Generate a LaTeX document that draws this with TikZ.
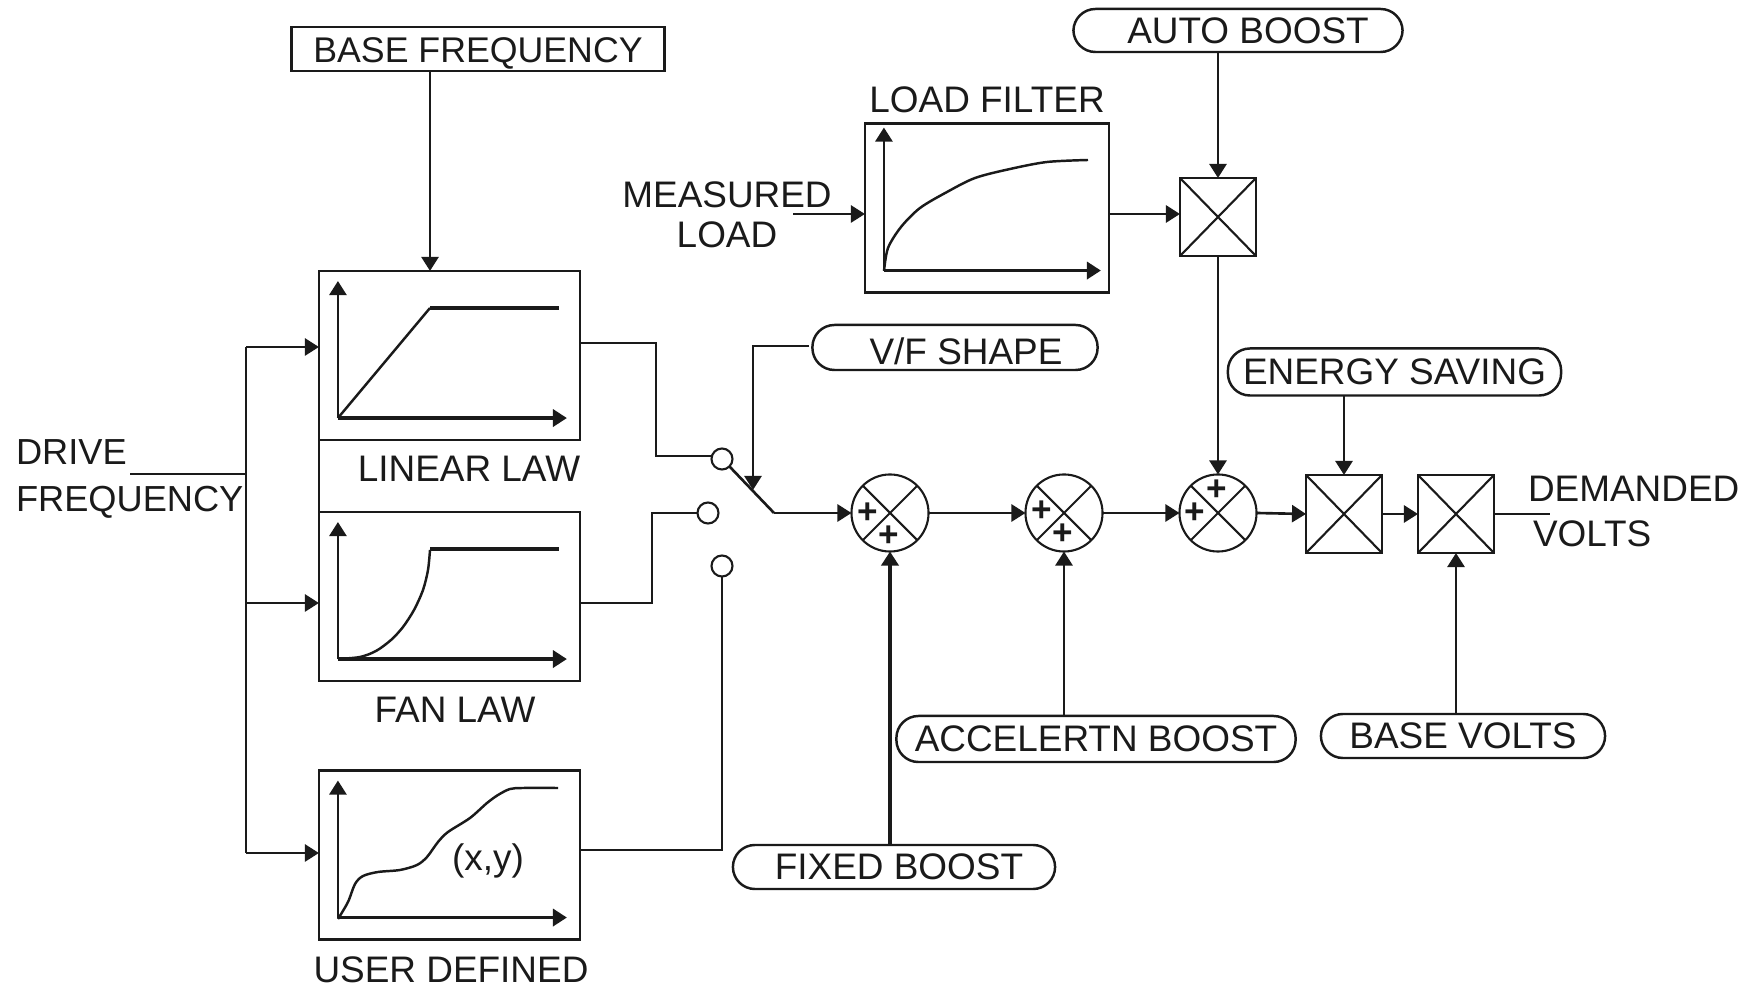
\documentclass[tikz,border=0pt]{standalone}
\usepackage{fontspec}
\setmainfont{Liberation Sans}
\usetikzlibrary{arrows.meta,calc}
\definecolor{Ink}{HTML}{1A1A1A}

\begin{document}
\begin{tikzpicture}[
    x=0.01cm,y=-0.01cm,
    every node/.style={font=\fontsize{10.5}{13}\selectfont,text=Ink,inner sep=0pt,outer sep=0pt},
    lawbox/.style={draw=Ink,line width=0.7pt,minimum width=2.61cm,minimum height=1.69cm},
    pill/.style={draw=Ink,line width=0.7pt,rounded corners=2.2mm},
    crossed/.style={draw=Ink,line width=0.6pt,path picture={
      \draw[Ink,line width=0.6pt] (path picture bounding box.north west)--(path picture bounding box.south east)
        (path picture bounding box.north east)--(path picture bounding box.south west);}},
    mulbox/.style={crossed,minimum width=0.76cm,minimum height=0.78cm},
    sumnode/.style={crossed,circle,minimum size=0.77cm},
    contact/.style={circle,draw=Ink,line width=0.6pt,minimum size=0.21cm},
    plus/.style={font=\fontsize{10}{10}\selectfont\bfseries},
    wire/.style={draw=Ink,line width=0.75pt},
    arr/.style={wire,-{Triangle[length=1.4mm,width=1.7mm]}},
    curve/.style={draw=Ink,line width=0.7pt}
  ]
    \useasboundingbox (0,0) rectangle (1751,989);
    % law boxes
    \node[lawbox] (linear) at (449.5,355.5) {};
    \node[lawbox] (fan) at (449.5,596.5) {};
    \node[lawbox] (user) at (449.5,855) {};
    \node[lawbox,minimum width=2.44cm] (filter) at (987,208) {};
    \node (linearlbl) at (469,469) {LINEAR LAW};
    \node (fanlbl) at (455,710) {FAN LAW};
    \node (userlbl) at (451,970) {USER DEFINED};
    \node (filterlbl) at (987,100) {LOAD FILTER};
    \node (xy) at (488,861) {(x,y)};
    % inputs and boosts
    \node[draw=Ink,line width=0.7pt,minimum width=3.73cm,minimum height=0.44cm,text height=7.5pt,text depth=0pt,font=\fontsize{10.15}{13}\selectfont] (basefreq) at (478,49) {BASE FREQUENCY};
    \node[pill,minimum width=3.29cm,minimum height=0.43cm] (auto) at (1238,30.5) {\hspace*{0.2cm}AUTO BOOST};
    \node[pill,minimum width=2.85cm,minimum height=0.45cm,text height=9.5pt,text depth=0pt] (vf) at (955,347.5) {\hspace*{0.22cm}V/F SHAPE};
    \node[pill,minimum width=3.33cm,minimum height=0.47cm] (energy) at (1394.5,372) {ENERGY SAVING};
    \node[pill,minimum width=3.99cm,minimum height=0.46cm] (accel) at (1096,739) {ACCELERTN BOOST};
    \node[pill,minimum width=2.84cm,minimum height=0.44cm] (basevolts) at (1463,736) {BASE VOLTS};
    \node[pill,minimum width=3.22cm,minimum height=0.44cm] (fixed) at (894,867) {\hspace*{0.1cm}FIXED BOOST};
    \node[align=left,anchor=west,font=\fontsize{10.3}{13.3}\selectfont] (drive) at (16,479) {DRIVE\\FREQUENCY};
    \node[align=center,font=\fontsize{10.5}{11.4}\selectfont] (measured) at (727,215) {MEASURED\\LOAD};
    \node[align=left,anchor=west,font=\fontsize{10.5}{12.8}\selectfont] (demanded) at (1528,511) {DEMANDED\\\hspace*{0.05cm}VOLTS};
    % multipliers and summers
    \node[mulbox] (mulA) at (1218,217) {};
    \node[mulbox] (mulB) at (1344,514) {};
    \node[mulbox] (mulC) at (1456,514) {};
    \node[sumnode] (sumA) at (890,513) {};
    \node[sumnode] (sumB) at (1064,513) {};
    \node[sumnode] (sumC) at (1218,513) {};
    \node[plus] (plusA) at (868,513) {+};
    \node[plus] (plusB) at (889,536) {+};
    \node[plus] (plusC) at (1042,511) {+};
    \node[plus] (plusD) at (1063,534) {+};
    \node[plus] (plusE) at (1217,490) {+};
    \node[plus] (plusF) at (1195,513) {+};
    \node[contact] (contA) at (722,459) {};
    \node[contact] (contB) at (708,513) {};
    \node[contact] (contC) at (722,566) {};
    % plots
    \foreach \m/\w/\h in {linear/229/137,fan/229/137,user/229/137,filter/217/143}{
      \coordinate (\m o) at ($(\m.south west)+(19,-22)$);
      \draw[arr] (\m o)--++(0,-\h);
      \draw[arr,line width=1pt] (\m o)--++(\w,0);
    }
    \draw[curve] (linearo)--(430,308);
    \draw[curve,line width=1pt] (430,308)--(559,308);
    \draw[curve] plot[smooth,tension=0.5] coordinates {(338,659)(360,657)(376,651)(391,640)(403,627)(414,610)(423,590)(428,570)(430,550)};
    \draw[curve,line width=1pt] (430,549)--(559,549);
    \draw[curve] plot[smooth,tension=0.5] coordinates {(338,919)(348,902)(355,884)(363,876)(378,872)(400,870)(417,865)(427,857)(438,842)(448,832)(470,818)(487,803)(498,795)(510,789)(523,788)(558,788)};
    \draw[curve] plot[smooth,tension=0.5] coordinates {(884,271)(888,248)(901,227)(920,208)(947,192)(975,178)(1010,169)(1047,162)(1088,160)};
    % connectors
    \coordinate (busin) at (130,474);
    \coordinate (bustop) at (246,347);
    \coordinate (busfan) at (246,603);
    \coordinate (bususer) at (246,853);
    \draw[wire] (busin)--(busin -| bustop);
    \draw[wire] (bustop)--(bususer);
    \draw[arr] (bustop)--(bustop -| linear.west);
    \draw[arr] (busfan)--(busfan -| fan.west);
    \draw[arr] (bususer)--(bususer -| user.west);
    \draw[wire] (linear.south west)--(fan.north west);
    \coordinate (bfout) at (430,71);
    \draw[arr] (bfout)--(bfout |- linear.north);
    \coordinate (linout) at (580,343);
    \coordinate (fanout) at (580,603);
    \coordinate (userout) at (580,850);
    \coordinate (contAin) at (712,456);
    \draw[wire] (linout)-|(656,456)--(contAin);
    \draw[wire] (fanout)-|(652,513)--(contB.west);
    \draw[wire] (userout)-|(contC.south);
    \coordinate (arm) at (774,513);
    \coordinate (tap) at (753,490);
    \draw[wire] (contA.south east)--(arm);
    \draw[arr] (arm)--(sumA.west);
    \coordinate (vfout) at (809,346);
    \draw[arr] (vfout)-|(tap);
    \draw[arr] (sumA.east)--(sumB.west);
    \draw[arr] (sumB.east)--(sumC.west);
    \draw[arr] (sumC.east)--(mulB.west);
    \draw[arr] (mulB.east)--(mulC.west);
    \draw[wire] (mulC.east)--(1550,514);
    \draw[arr] (auto.south -| mulA.north)--(mulA.north);
    \draw[arr] (mulA.south)--(sumC.north);
    \coordinate (filtout) at (1109,214);
    \draw[arr] (filtout)--(filtout -| mulA.west);
    \coordinate (loadin) at (793,214);
    \draw[arr] (loadin)--(loadin -| filter.west);
    \draw[arr] (energy.south -| mulB.north)--(mulB.north);
    \draw[arr] (basevolts.north -| mulC.south)--(mulC.south);
    \draw[arr] (accel.north -| sumB.south)--(sumB.south);
    \draw[arr,line width=1pt] (fixed.north -| sumA.south)--(sumA.south);
\end{tikzpicture}
\end{document}
